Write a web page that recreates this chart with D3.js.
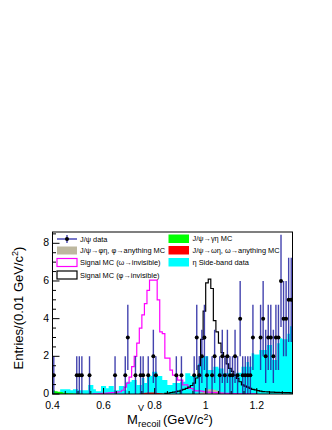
<!DOCTYPE html>
<html>
<head>
<meta charset="utf-8">
<script src="https://cdn.jsdelivr.net/npm/d3@7"></script>
<style>
    body { margin: 0; background: #fff; }
    svg { display: block; font-family: "Liberation Sans", Arial, "DejaVu Sans", sans-serif; }
</style>
</head>
<body>
<div id="chart"></div>
<script>
// Axis setup
const binWidth = 0.01;
const xMin = 0.4, xMax = 1.34;
const yMax = 8.6;
const xTicks = [0.4, 0.6, 0.8, 1.0, 1.2];
const xTickLabels = ['0.4', '0.6', '0.8', '1', '1.2'];
const yTicks = [0, 2, 4, 6, 8];
const yTickLabels = ['0', '2', '4', '6', '8'];

// eta side-band data (cyan), bins 0.40 .. 1.33
const sidebandStart = 0.40;
const sidebandData = [
    0.08, 0.08, 0.10, 0.25, 0.25, 0.25, 0.25, 0.20, 0.25, 0.25,
    0.20, 0.20, 0.20, 0.20, 0.48, 0.48, 0.25, 0.15, 0.15, 0.42,
    0.42, 0.30, 0.42, 0.42, 0.20, 0.20, 0.42, 0.42, 0.20, 0.65,
    0.65, 0.74, 0.74, 0.48, 0.48, 0.85, 0.58, 0.96, 0.96, 1.18,
    1.18, 0.96, 0.96, 0.74, 0.74, 0.48, 0.48, 0.58, 0.58, 0.58,
    0.65, 0.65, 1.10, 1.10, 0.95, 0.95, 0.95, 1.60, 2.00, 2.00,
    2.00, 1.27, 1.27, 1.45, 1.45, 1.36, 1.36, 1.10, 1.10, 1.36,
    0.92, 1.06, 1.13, 1.13, 1.45, 1.45, 1.70, 1.45, 2.16, 2.10,
    2.10, 2.34, 2.34, 2.34, 2.60, 2.60, 1.80, 1.80, 2.70, 2.96,
    2.90, 2.90, 3.20, 3.60
];

// J/psi -> gamma eta MC (green)
const gammaEtaStart = 0.40;
const gammaEtaMC = [0.18, 0.15, 0.12, 0.10, 0.06, 0.05, 0.04, 0.04, 0.03, 0.03, 0.02, 0.02];

// J/psi -> omega eta, omega -> anything MC (red)
const omegaEtaStart = 0.74;
const omegaEtaMC = [0.03, 0.05, 0.07, 0.08, 0.08, 0.08, 0.07, 0.05, 0.04, 0.03];

// J/psi -> phi eta, phi -> anything MC (beige)
const phiEtaStart = 0.97;
const phiEtaMC = [0.05, 0.08, 0.15, 0.22, 0.25, 0.25, 0.22, 0.18, 0.12, 0.08, 0.05];

// Signal MC (omega -> invisible), magenta outline
const omegaSignalStart = 0.56;
const omegaSignal = [
    0.01, 0.01, 0.02, 0.03,
    0.04, 0.05, 0.06, 0.07, 0.08, 0.10, 0.12, 0.20, 0.37, 0.58,
    0.90, 1.45, 2.00, 2.70, 3.50, 4.20, 4.80, 5.50, 6.05, 6.05,
    6.05, 5.00, 3.30, 3.20, 1.90, 1.90, 1.27, 1.00, 1.00, 0.74,
    0.74, 0.48, 0.48, 0.30, 0.30, 0.20, 0.17, 0.17, 0.15, 0.12,
    0.10, 0.10, 0.08, 0.08, 0.06, 0.05, 0.05, 0.04, 0.03, 0.03,
    0.02, 0.02, 0.02, 0.01, 0.01, 0.01, 0.01, 0.01, 0.01, 0.01
];

// Signal MC (phi -> invisible), black outline
const phiSignalStart = 0.84;
const phiSignal = [
    0.03, 0.05, 0.08, 0.10, 0.12, 0.15,
    0.20, 0.25, 0.30, 0.37, 0.45, 0.58, 0.85, 1.50, 2.90, 4.40,
    5.90, 6.10, 5.60, 3.90, 3.30, 2.70, 2.20, 2.00, 1.60, 1.36,
    1.20, 1.00, 0.83, 0.65, 0.48, 0.42, 0.36, 0.30, 0.25, 0.22,
    0.18, 0.15, 0.13, 0.12, 0.11, 0.10, 0.10, 0.09, 0.09, 0.08,
    0.08, 0.07, 0.07, 0.06
];

// J/psi data: bin lower edge and entries
const dataBins = [
    0.40, 0.49, 0.50, 0.51, 0.54, 0.64, 0.68, 0.69, 0.72, 0.74,
    0.75, 0.77, 0.79, 0.80, 0.88, 0.90, 0.95, 0.96, 0.97, 0.98,
    0.99, 1.00, 1.02, 1.03, 1.05, 1.06, 1.07, 1.08, 1.09, 1.10,
    1.11, 1.12, 1.13, 1.14, 1.15, 1.16, 1.17, 1.18, 1.21, 1.22,
    1.23, 1.24, 1.25, 1.26, 1.27, 1.28, 1.29, 1.30, 1.31, 1.32,
    1.33
];
const dataCounts = [
    1, 1, 1, 1, 1, 1, 1, 3, 1, 1,
    1, 1, 2, 1, 1, 1, 1, 3, 1, 2,
    3, 1, 1, 2, 1, 2, 1, 2, 1, 1,
    2, 1, 4, 1, 1, 1, 1, 3, 3, 4,
    2, 3, 3, 2, 3, 3, 6, 4, 4, 5,
    5
];

// Legend entries
const legendLeft = ['J/\u03c8 data', 'J/\u03c8\u2192\u03c6\u03b7, \u03c6\u2192anything MC', 'Signal MC (\u03c9\u2192invisible)', 'Signal MC (\u03c6\u2192invisible)'];
const legendRight = ['J/\u03c8\u2192\u03b3\u03b7 MC', 'J/\u03c8\u2192\u03c9\u03b7, \u03c9\u2192anything MC', '\u03b7 Side-band data'];

const W = 332, H = 430;
const plot = { left: 52.5, right: 292.5, top: 232, bottom: 394 };

const svg = d3.select('#chart')
    .append('svg')
    .attr('width', W)
    .attr('height', H);

const x = d3.scaleLinear().domain([xMin, xMax]).range([plot.left, plot.right]);
const y = d3.scaleLinear().domain([0, yMax]).range([plot.bottom, plot.top]);

svg.append('clipPath').attr('id', 'plot-clip')
    .append('rect')
    .attr('x', plot.left).attr('y', plot.top)
    .attr('width', plot.right - plot.left).attr('height', plot.bottom - plot.top);

const g = svg.append('g').attr('clip-path', 'url(#plot-clip)');

// step outline of a histogram starting at 'start'
function stepPath(start, values) {
    const pts = [[start, 0]];
    values.forEach((v, i) => {
        const lo = start + i * binWidth;
        pts.push([lo, v], [lo + binWidth, v]);
    });
    pts.push([start + values.length * binWidth, 0]);
    return d3.line().x(d => x(d[0])).y(d => y(d[1]))(pts);
}

// filled histograms
g.append('path').attr('d', stepPath(sidebandStart, sidebandData)).attr('fill', '#00ffff');
g.append('path').attr('d', stepPath(gammaEtaStart, gammaEtaMC)).attr('fill', '#00ff00');
g.append('path').attr('d', stepPath(omegaEtaStart, omegaEtaMC)).attr('fill', '#ff0000');
g.append('path').attr('d', stepPath(phiEtaStart, phiEtaMC)).attr('fill', '#bdb89f');

// signal MC outlines
g.append('path').attr('d', stepPath(omegaSignalStart, omegaSignal))
    .attr('fill', 'none').attr('stroke', '#ff00ff').attr('stroke-width', 1.2);
g.append('path').attr('d', stepPath(phiSignalStart, phiSignal))
    .attr('fill', 'none').attr('stroke', '#000').attr('stroke-width', 1.2);

// data with sqrt(N) error bars
const data = dataBins.map((b, i) => ({ m: b + binWidth / 2, n: dataCounts[i] }));

g.selectAll('.err')
    .data(data)
    .enter()
    .append('line')
    .attr('class', 'err')
    .attr('x1', d => x(d.m)).attr('x2', d => x(d.m))
    .attr('y1', d => y(d.n - Math.sqrt(d.n)))
    .attr('y2', d => y(d.n + Math.sqrt(d.n)))
    .attr('stroke', '#2222a0')
    .attr('stroke-opacity', 0.85)
    .attr('stroke-width', 1.4);

g.selectAll('.pt')
    .data(data)
    .enter()
    .append('circle')
    .attr('class', 'pt')
    .attr('cx', d => x(d.m))
    .attr('cy', d => y(d.n))
    .attr('r', 2)
    .attr('fill', '#000');

// frame
svg.append('rect')
    .attr('x', plot.left).attr('y', plot.top)
    .attr('width', plot.right - plot.left).attr('height', plot.bottom - plot.top)
    .attr('fill', 'none').attr('stroke', '#000').attr('stroke-width', 1);

// ticks (inside the frame, ROOT style)
const axes = svg.append('g').attr('stroke', '#000').attr('stroke-width', 1);
d3.range(0, yMax, 0.5).forEach(v => {
    const major = v % 2 === 0;
    axes.append('line')
        .attr('x1', plot.left).attr('x2', plot.left + (major ? 7 : 3.5))
        .attr('y1', y(v)).attr('y2', y(v));
});
d3.range(0, 19).map(i => 0.4 + i * 0.05).filter(v => v <= xMax).forEach((v, i) => {
    const major = i % 4 === 0;
    axes.append('line')
        .attr('x1', x(v)).attr('x2', x(v))
        .attr('y1', plot.bottom).attr('y2', plot.bottom - (major ? 6 : 3));
});

svg.selectAll('.ytl')
    .data(yTicks)
    .enter()
    .append('text')
    .attr('x', 49)
    .attr('y', d => y(d))
    .attr('dy', '0.3em')
    .attr('text-anchor', 'end')
    .style('font-size', '10.5px')
    .text((d, i) => yTickLabels[i]);

svg.selectAll('.xtl')
    .data(xTicks)
    .enter()
    .append('text')
    .attr('x', d => x(d))
    .attr('y', 409)
    .attr('text-anchor', 'middle')
    .style('font-size', '10.5px')
    .text((d, i) => xTickLabels[i]);

// axis titles
const xt = svg.append('g').style('font-size', '13px');
xt.append('text').attr('x', 127).attr('y', 424).text('M');
xt.append('text').attr('x', 138).attr('y', 410.5).style('font-size', '9px').text('V');
xt.append('text').attr('x', 138).attr('y', 427).style('font-size', '9.5px').text('recoil');
const xt2 = xt.append('text').attr('x', 163).attr('y', 424);
xt2.append('tspan').text('(GeV/c');
xt2.append('tspan').attr('dy', -4.5).style('font-size', '9px').text('2');
xt2.append('tspan').attr('dy', 4.5).text(')');

const yt = svg.append('text')
    .attr('transform', 'translate(22.5,308) rotate(-90)')
    .attr('text-anchor', 'middle')
    .style('font-size', '13px');
yt.append('tspan').text('Entries/(0.01 GeV/c');
yt.append('tspan').attr('dy', -5).style('font-size', '9px').text('2');
yt.append('tspan').attr('dy', 5).text(')');

// legend (no fill, drawn over the plot)
const leg = svg.append('g').style('font-size', '7.4px');
const rowsY = [239, 250.5, 262.5, 275];

// data entry
leg.append('line').attr('x1', 57).attr('x2', 77).attr('y1', rowsY[0]).attr('y2', rowsY[0])
    .attr('stroke', '#5555bb').attr('stroke-width', 1.6);
leg.append('line').attr('x1', 67).attr('x2', 67).attr('y1', rowsY[0] - 4).attr('y2', rowsY[0] + 4)
    .attr('stroke', '#2222a0').attr('stroke-width', 1.2);
leg.append('circle').attr('cx', 67).attr('cy', rowsY[0]).attr('r', 2).attr('fill', '#000');

const leftBoxes = [
    null,
    { fill: '#bdb89f', stroke: 'none' },
    { fill: 'none', stroke: '#ff00ff' },
    { fill: 'none', stroke: '#000' }
];
leftBoxes.forEach((b, i) => {
    if (!b) return;
    leg.append('rect')
        .attr('x', 57).attr('y', rowsY[i] - 4).attr('width', 20).attr('height', 8)
        .attr('fill', b.fill).attr('stroke', b.stroke).attr('stroke-width', 1.2);
});
legendLeft.forEach((t, i) => {
    leg.append('text').attr('x', 80).attr('y', rowsY[i]).attr('dy', '0.35em').text(t);
});

const rightColors = ['#00ff00', '#ff0000', '#00ffff'];
const rightRowsY = [238.5, 250, 262];
rightColors.forEach((c, i) => {
    leg.append('rect')
        .attr('x', 168.5).attr('y', rightRowsY[i] - 4).attr('width', 20.5).attr('height', 8.5)
        .attr('fill', c);
    leg.append('text').attr('x', 192.5).attr('y', rightRowsY[i]).attr('dy', '0.35em').text(legendRight[i]);
});
</script>
</body>
</html>
